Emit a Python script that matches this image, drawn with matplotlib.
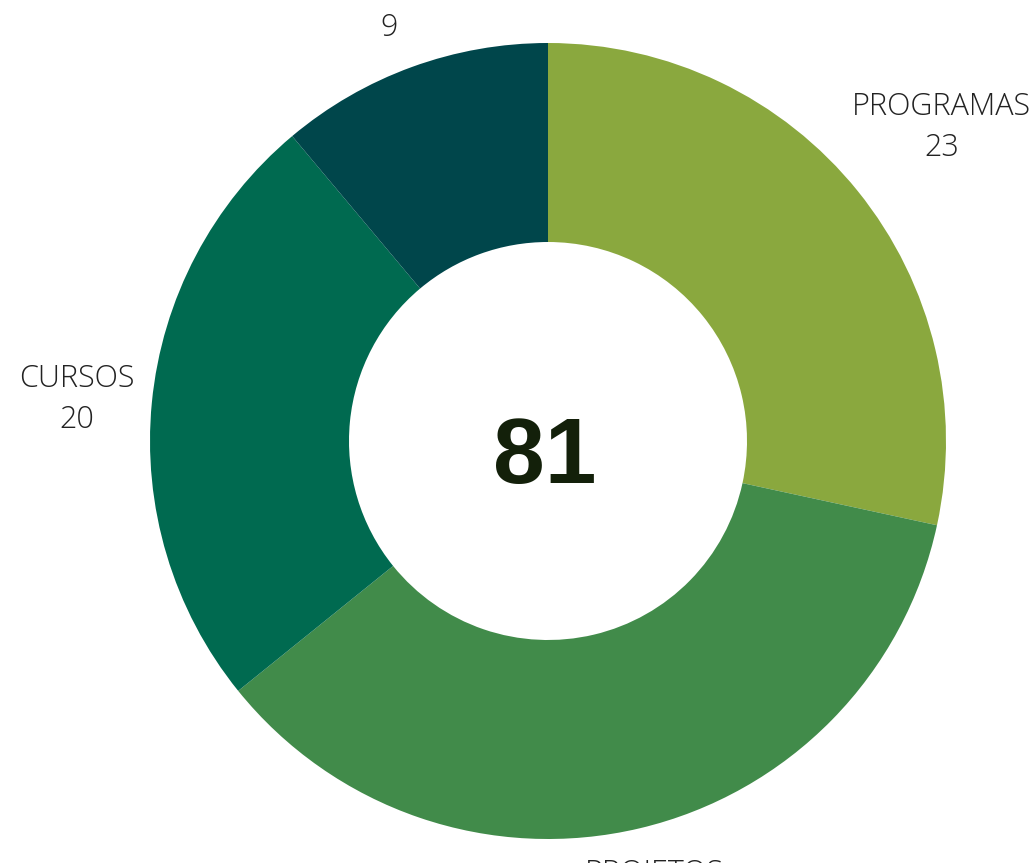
import numpy as np
from matplotlib import pyplot as plt

labels = ["PROGRAMAS", "PROJETOS", "CURSOS", "EVENTOS"]
values = [23, 29, 20, 9]
colors = ["#8aa83e", "#418b4a", "#006a50", "#00464b"]
total = sum(values)

# label distance from centre (in outer radii), per slice
label_dist = [1.27, 1.16, 1.19, 1.17]

W, H = 1034, 863
fig = plt.figure(figsize=(W / 100, H / 100), dpi=100)
ax = fig.add_axes([0, 0, 1, 1])

cx, cy = 548, H - 441
R = 398

wedges, _ = ax.pie(values, colors=colors, startangle=90, counterclock=False,
                   center=(cx, cy), radius=R,
                   wedgeprops=dict(width=R * 0.5, linewidth=0))

for w, name, val, d in zip(wedges, labels, values, label_dist):
    ang = np.deg2rad((w.theta1 + w.theta2) / 2)
    x = cx + R * d * np.cos(ang)
    y = cy + R * d * np.sin(ang) - 4
    ax.text(x, y, f"{name}\n{val}", ha="center", va="center",
            family="Open Sans", fontweight="light", fontsize=22,
            color="#222222", linespacing=1.38)

ax.text(cx - 3, cy - 42, str(total), ha="center", va="baseline",
        family="Liberation Sans", fontweight="bold", fontsize=67,
        color="#13200a")

ax.set_xlim(0, W)
ax.set_ylim(0, H)
ax.set_aspect("equal")
ax.axis("off")

fig.savefig("out.png", dpi=100)
